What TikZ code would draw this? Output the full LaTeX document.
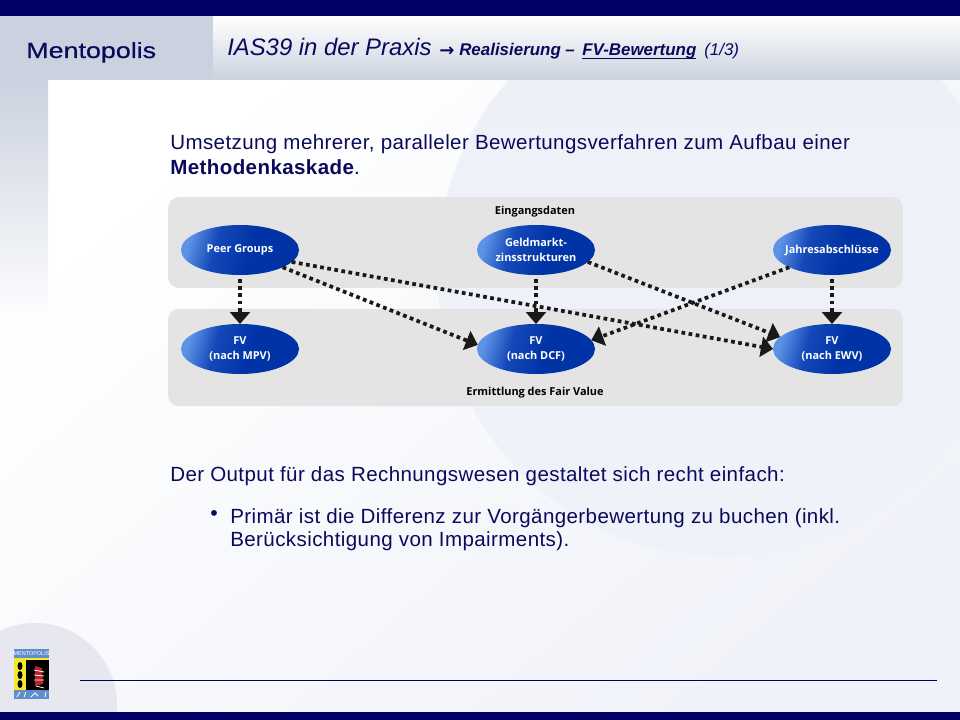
\documentclass[tikz,border=0pt]{standalone}
\usepackage{fontspec}
\setmainfont{Liberation Sans}
\newfontfamily\bodyfont{Liberation Sans}[LetterSpace=2.0]
\newfontfamily\logofont{Liberation Sans}[FakeBold=0.5]
\newfontfamily\diagfont{Open Sans}
\newfontfamily\arrowfont{DejaVu Sans}
\usetikzlibrary{shapes.geometric,arrows.meta}
\definecolor{navybar}{HTML}{000066}
\definecolor{headgrey}{HTML}{CBD2DF}
\definecolor{inkblue}{HTML}{0A0A5C}
\definecolor{panelgrey}{HTML}{E4E4E4}
\definecolor{paleblue}{HTML}{EDF0F8}
\definecolor{palelow}{HTML}{F0F2F9}
\definecolor{logoblue}{HTML}{5E8FCC}
\definecolor{logoyellow}{HTML}{F5E92A}
\definecolor{logored}{HTML}{B8242A}
\definecolor{fvlight}{HTML}{5C93E6}
\definecolor{fvmid}{HTML}{1448B8}
\definecolor{fvdark}{HTML}{0033A5}
\pgfdeclarehorizontalshading{fvblue}{100bp}{color(0bp)=(fvlight);color(25bp)=(fvlight);color(38bp)=(fvmid);color(55bp)=(fvdark);color(100bp)=(fvdark)}
\tikzset{
  panel/.style={rectangle,fill=panelgrey,rounded corners=8pt,inner sep=0pt,minimum width=551pt},
  fvnode/.style={ellipse,shading=fvblue,shading angle=-15,minimum width=88.5pt,minimum height=37.5pt,inner sep=0pt,outer sep=0pt,text=white,align=center,font=\diagfont\bfseries\fontsize{8.2}{11.6}\selectfont},
  paneltext/.style={font=\diagfont\bfseries\fontsize{8.2}{10}\selectfont,text=black,inner sep=0pt},
  bodytext/.style={anchor=base west,inner sep=0pt,text=inkblue,font=\bodyfont\fontsize{15.4}{17}\selectfont},
  headtext/.style={anchor=base west,inner sep=0pt,text=inkblue,font=\itshape\fontsize{12.7}{14}\selectfont},
  flow/.style={-{Triangle[width=15pt,length=9pt]},line width=2.8pt,dash pattern=on 2.8pt off 2.6pt,draw=black!90}
}
\begin{document}
\begin{tikzpicture}[x=0.75pt,y=-0.75pt]
  \useasboundingbox (0,0) rectangle (960,720);
  \shade [top color=white,bottom color=palelow,shading angle=40] (0,80) rectangle (960,712);
  \shade [top color=headgrey,bottom color=white!92!palelow] (0,80) rectangle (48,320);
  \shade [top color=paleblue,bottom color=palelow,draw=white!50!paleblue,line width=0.5pt] (725,270) circle (288);
  \fill [black!4!palelow] (35,705) circle (82);
  \fill [headgrey] (0,16) rectangle (213,80);
  \shade [top color=white,bottom color=headgrey] (213,16) rectangle (960,80);
  \fill [navybar] (0,0) rectangle (960,16);
  \fill [navybar] (0,712) rectangle (960,720);
  \draw [navybar,line width=0.75pt] (80,680) -- (937,680);

  \node [anchor=base west,inner sep=0pt,text=inkblue,xscale=1.22,font=\logofont\fontsize{16.5}{18}\selectfont] (LOGO) at (26,58) {Mentopolis};
  \node [headtext,font=\itshape\fontsize{17.9}{20}\selectfont] (TITLE) at (227,56) {IAS39 in der Praxis};
  \node [headtext,font=\arrowfont\bfseries\fontsize{13.5}{14}\selectfont] (ARW) at (439,57) {→};
  \node [headtext,font=\bfseries\itshape\fontsize{12.7}{14}\selectfont] (REAL) at (459,56) {Realisierung};
  \node [headtext,font=\bfseries\itshape\fontsize{12.7}{14}\selectfont] (DASH) at (565,56) {–};
  \node [headtext,font=\bfseries\itshape\fontsize{12.7}{14}\selectfont] (FVB) at (582,56) {\underline{\smash{FV-Bewertung}}};
  \node [headtext] (NUM) at (704,56) {(1/3)};

  \node [bodytext] (L1) at (170,149.5) {Umsetzung mehrerer, paralleler Bewertungsverfahren zum Aufbau einer};
  \node [bodytext] (L2) at (170,174.5) {\textbf{Methodenkaskade}.};
  \node [bodytext] (L3) at (170,481) {Der Output für das Rechnungswesen gestaltet sich recht einfach:};
  \node [bodytext,font=\fontsize{16}{16}\selectfont] (B1) at (210,520) {•};
  \node [bodytext] (L4) at (230,523) {Primär ist die Differenz zur Vorgängerbewertung zu buchen (inkl.};
  \node [bodytext] (L5) at (230,546) {Berücksichtigung von Impairments).};

  \node [panel,minimum height=68pt] (TP) at (535.5,242.5) {};
  \node [panel,minimum height=73pt] (BP) at (535.5,357.5) {};
  \node [paneltext] (ED) at (535,211.5) {Eingangsdaten};
  \node [paneltext] (EF) at (535,392.5) {Ermittlung des Fair Value};

  \node [fvnode] (PG) at (240,250) {\raisebox{-0.8pt}{Peer Groups}};
  \node [fvnode] (GM) at (536,250) {Geldmarkt-\\zinsstrukturen};
  \node [fvnode] (JA) at (832,250) {\raisebox{-0.8pt}{\makebox[0pt]{Jahresabschlüsse}}};
  \node [fvnode] (MPV) at (240,349) {FV\\(nach MPV)};
  \node [fvnode] (DCF) at (536,349) {FV\\(nach DCF)};
  \node [fvnode] (EWV) at (832,349) {FV\\(nach EWV)};

  \draw [flow,shorten <=3pt] (PG) -- (MPV);
  \draw [flow,shorten <=3pt] (GM) -- (DCF);
  \draw [flow,shorten <=3pt] (JA) -- (EWV);
  \draw [flow] (PG.-22) -- (DCF.176);
  \draw [flow] (PG.-13) -- (EWV.180);
  \draw [flow] (GM.-13) -- (EWV.167);
  \draw [flow] (JA.202) -- (DCF.9);

  \fill [logoblue] (14,649) rectangle (49,699);
  \fill [logoyellow] (14,658) rectangle (26,690);
  \fill [black] (26,660) rectangle (49,690);
  \fill [logoyellow] (26,658) rectangle (49,660);
  \fill [black] (20,666) ellipse (2.5 and 4);
  \fill [black] (20,675) ellipse (2.5 and 4);
  \fill [black] (20,684) ellipse (2.5 and 4);
  \fill [logored] (35,666) -- (42,668) -- (43,684) -- (35,686) -- cycle;
  \draw [white,line width=0.6pt] (34,670) -- (44,672) (34,675) -- (44,676) (34,680) -- (44,680) (36,686) -- (44,688);
  \node [inner sep=0pt,text=white,xscale=0.98,font=\fontsize{4.2}{5}\selectfont] (LT) at (31.5,653.5) {MENTOPOLIS};
  \draw [white,line width=0.6pt] (17,697) -- (20,692) (24,697) -- (26,692) (31,697) -- (35,693) -- (38,696) (45,697) -- (46,692);
\end{tikzpicture}
\end{document}
